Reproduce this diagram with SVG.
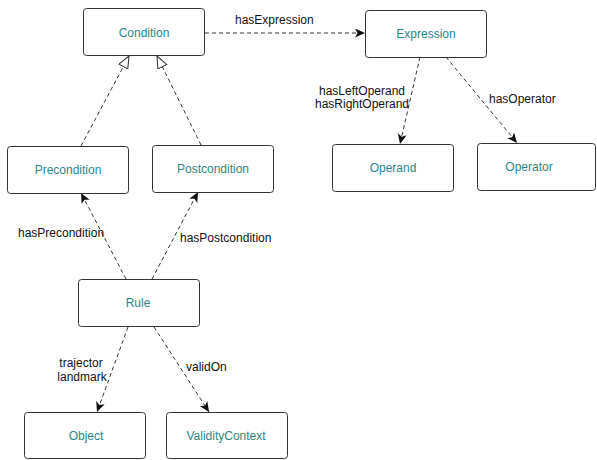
<svg xmlns="http://www.w3.org/2000/svg" width="597" height="460" viewBox="0 0 597 460">
<style>
.node rect{fill:#fff;stroke:#333;stroke-width:1}
.node text{font-family:"Liberation Sans",Arial,sans-serif;font-size:12px;fill:#2a8686;text-anchor:middle}
.edge{fill:none;stroke:#333;stroke-width:1;stroke-dasharray:4 3}
.lbl{font-family:"Liberation Sans",Arial,sans-serif;font-size:12px;fill:#111}
</style>
<defs>
<marker id="arr" markerUnits="userSpaceOnUse" markerWidth="11" markerHeight="10" refX="10" refY="4.5" orient="auto">
<path d="M0,0 L10,4.5 L0,9 L2.5,4.5 Z" fill="#111"/>
</marker>
<marker id="tri" markerUnits="userSpaceOnUse" markerWidth="14" markerHeight="12" refX="12.5" refY="5.5" orient="auto">
<path d="M0.5,0.5 L12.5,5.5 L0.5,10.5 Z" fill="#fff" stroke="#333" stroke-width="1"/>
</marker>
</defs>
<rect width="597" height="460" fill="#fff"/>
<g id="connectors">
<path class="edge" d="M81,146 L129,56" marker-end="url(#tri)"/>
<path class="edge" d="M201,145 L157,56" marker-end="url(#tri)"/>
<path class="edge" d="M205,33 L365,33" marker-end="url(#arr)"/>
<path class="edge" d="M420,57 L400,144" marker-end="url(#arr)"/>
<path class="edge" d="M446,57 L517,143" marker-end="url(#arr)"/>
<path class="edge" d="M126,279 L81,193" marker-end="url(#arr)"/>
<path class="edge" d="M152,279 L198,192" marker-end="url(#arr)"/>
<path class="edge" d="M128,327 L97,412" marker-end="url(#arr)"/>
<path class="edge" d="M154,327 L209,412" marker-end="url(#arr)"/>
<text class="lbl" x="235" y="24">hasExpression</text>
<text class="lbl" x="362" y="95" text-anchor="middle">hasLeftOperand</text>
<text class="lbl" x="362" y="108" text-anchor="middle">hasRightOperand</text>
<text class="lbl" x="489" y="103">hasOperator</text>
<text class="lbl" x="18" y="237">hasPrecondition</text>
<text class="lbl" x="180" y="242">hasPostcondition</text>
<text class="lbl" x="81" y="367" text-anchor="middle">trajector</text>
<text class="lbl" x="82" y="381" text-anchor="middle">landmark</text>
<text class="lbl" x="186" y="371">validOn</text>
</g>
<g id="condition" class="node"><rect x="83.5" y="8.5" width="121" height="47" rx="3"/><text x="144" y="37">Condition</text></g>
<g id="precondition" class="node"><rect x="7.5" y="146.5" width="121" height="47" rx="3"/><text x="68" y="174">Precondition</text></g>
<g id="postcondition" class="node"><rect x="152.5" y="145.5" width="121" height="47" rx="3"/><text x="213" y="173">Postcondition</text></g>
<g id="expression" class="node"><rect x="365.5" y="10.5" width="121" height="47" rx="3"/><text x="426" y="38">Expression</text></g>
<g id="operand" class="node"><rect x="332.5" y="144.5" width="121" height="47" rx="3"/><text x="393" y="172">Operand</text></g>
<g id="operator" class="node"><rect x="477.5" y="143.5" width="118" height="47" rx="3"/><text x="529" y="171">Operator</text></g>
<g id="rule" class="node"><rect x="78.5" y="279.5" width="121" height="47" rx="3"/><text x="138" y="307">Rule</text></g>
<g id="object" class="node"><rect x="24.5" y="412.5" width="121" height="46" rx="3"/><text x="86" y="440">Object</text></g>
<g id="validitycontext" class="node"><rect x="166.5" y="412.5" width="121" height="46" rx="3"/><text x="226" y="440">ValidityContext</text></g>
</svg>
